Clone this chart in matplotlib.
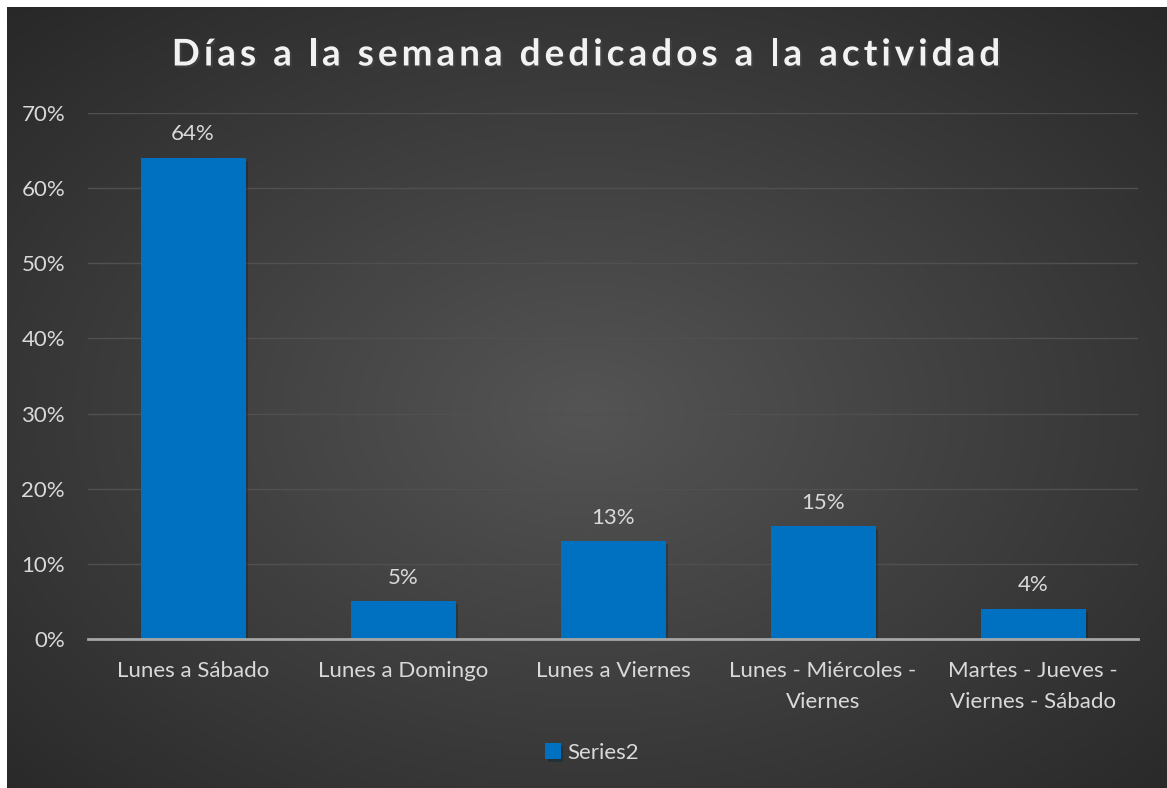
import numpy as np
import matplotlib.pyplot as plt
import matplotlib.patheffects as pe

categories = ["Lunes a Sábado", "Lunes a Domingo", "Lunes a Viernes",
              "Lunes - Miércoles -\nViernes", "Martes - Jueves -\nViernes - Sábado"]
values = [0.64, 0.05, 0.13, 0.15, 0.04]
labels = ["64%", "5%", "13%", "15%", "4%"]
yticks = [0, 0.1, 0.2, 0.3, 0.4, 0.5, 0.6, 0.7]
title = "Días a la semana dedicados a la actividad"

W, H = 1167, 788
fig = plt.figure(figsize=(W / 100, H / 100), dpi=100)
fig.patch.set_facecolor("white")

# dark radial gradient background
bg = fig.add_axes([7 / W, 0, (W - 7) / W, (H - 7) / H])
bg.set_axis_off()
yy, xx = np.mgrid[0:1:400j, 0:1:600j]
r = np.sqrt(((xx - 0.5) / 0.75) ** 2 + ((yy - 0.52) / 0.75) ** 2)
r = np.clip(r, 0, 1)
g = 0.33 - 0.18 * r
img = np.dstack([g, g, g])
bg.imshow(img, aspect="auto", extent=[0, 1, 0, 1], interpolation="bilinear")
bg.set_xlim(0, 1)
bg.set_ylim(0, 1)

font = "Lato"
txt = "#D9D9D9"
fs = 16

ax = fig.add_axes([88 / W, 1 - 639 / H, (1138 - 88) / W, (639 - 113) / H])
ax.patch.set_alpha(0)
x = np.arange(len(categories))
bars = ax.bar(x, values, width=0.5, color="#0070C0", zorder=3,
              path_effects=[pe.SimplePatchShadow(offset=(2, -2), alpha=0.35), pe.Normal()])
ax.set_xlim(-0.5, len(categories) - 0.5)
ax.set_ylim(0, 0.7)
ax.set_yticks(yticks)
ax.set_yticklabels([f"{int(round(t * 100))}%" for t in yticks])
ax.set_xticks(x)
ax.set_xticklabels(categories, linespacing=1.65)
ax.tick_params(axis="both", length=0, colors=txt, labelsize=fs)
ax.tick_params(axis="y", pad=16.5)
ax.tick_params(axis="x", pad=16)
for lab in ax.get_xticklabels() + ax.get_yticklabels():
    lab.set_fontfamily(font)
ax.grid(axis="y", color="#505050", linewidth=1, zorder=0)
for s in ["top", "right", "left"]:
    ax.spines[s].set_visible(False)
ax.spines["bottom"].set_color("#A6A6A6")
ax.spines["bottom"].set_linewidth(2)
ax.spines["bottom"].set_zorder(4)

for b, lab in zip(bars, labels):
    ax.annotate(lab, (b.get_x() + b.get_width() / 2, b.get_height()),
                xytext=(0, 17), textcoords="offset points", ha="center", va="center",
                color=txt, fontsize=fs, fontfamily=font)

# letter-spaced title, drawn character by character
renderer = fig.canvas.get_renderer()
tkw = dict(color="#F2F2F2", fontsize=26.5, fontweight="bold", fontfamily=font,
           path_effects=[pe.withSimplePatchShadow(offset=(1.5, -1.5), alpha=0.5)])


def text_width(s):
    t = fig.text(0, 0, s + "|", **tkw)
    w = t.get_window_extent(renderer).width
    t.remove()
    return w


bar_w = text_width("")
spacing = 4.1
offsets = [text_width(title[:i]) - bar_w + i * spacing for i in range(len(title))]
total = text_width(title) - bar_w + (len(title) - 1) * spacing
x0 = 586 - total / 2
for ch, off in zip(title, offsets):
    if ch != " ":
        fig.text((x0 + off) / W, 1 - 55 / H, ch, ha="left", va="center", **tkw)

leg = ax.legend([bars[0]], ["Series2"], loc="center", bbox_to_anchor=(592 / W, 1 - 753 / H),
                bbox_transform=fig.transFigure, frameon=False, handlelength=0.7,
                handleheight=0.7, handletextpad=0.3, prop={"family": font, "size": fs})
for t in leg.get_texts():
    t.set_color(txt)

fig.savefig("out.png", dpi=100, facecolor=fig.get_facecolor())
